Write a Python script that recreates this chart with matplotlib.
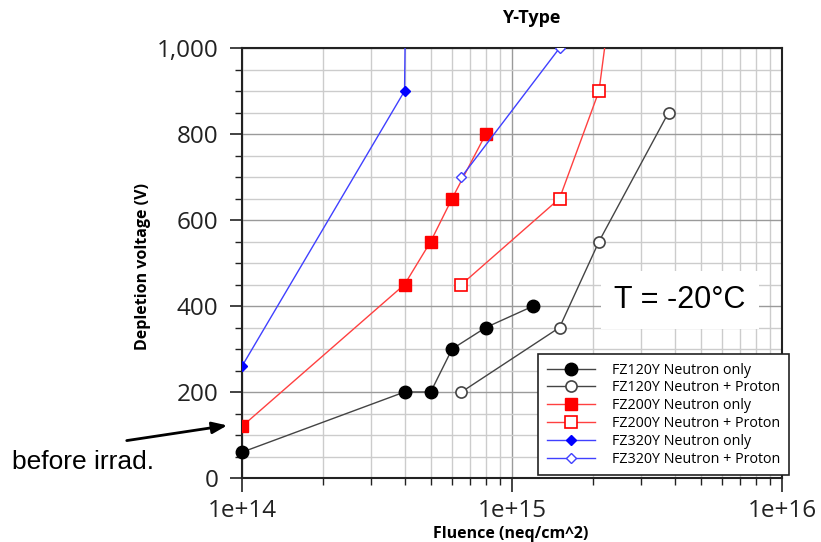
import numpy as np
import matplotlib.pyplot as plt
from matplotlib.ticker import MultipleLocator, LogLocator, FuncFormatter, NullFormatter

# fluence [neq/cm^2] and depletion voltage [V] for each sensor / irradiation type
fz120_n_x = [1e14, 4e14, 5e14, 6e14, 8e14, 1.2e15]
fz120_n_y = [60, 200, 200, 300, 350, 400]
fz120_np_x = [6.5e14, 1.5e15, 2.1e15, 3.8e15]
fz120_np_y = [200, 350, 550, 850]

fz200_n_x = [1e14, 4e14, 5e14, 6e14, 8e14]
fz200_n_y = [120, 450, 550, 650, 800]
fz200_np_x = [6.5e14, 1.5e15, 2.1e15, 2.8e15]
fz200_np_y = [450, 650, 900, 1500]

fz320_n_x = [1e14, 4e14, 4.1e14]
fz320_n_y = [260, 900, 1500]
fz320_np_x = [6.5e14, 1.5e15]
fz320_np_y = [700, 1000]

W, H = 821, 542
fig = plt.figure(figsize=(W / 100, H / 100), dpi=100)
ax = fig.add_axes([242 / W, (H - 478) / H, 540 / W, 430 / H])

ax.set_xscale('log')
ax.set_xlim(1e14, 1e16)
ax.set_ylim(0, 1000)

# grid: light lines everywhere, darker on the major ticks
ax.yaxis.set_major_locator(MultipleLocator(200))
ax.yaxis.set_minor_locator(MultipleLocator(50))
ax.xaxis.set_major_locator(LogLocator(base=10))
ax.xaxis.set_minor_locator(LogLocator(base=10, subs=np.arange(2, 10)))
ax.xaxis.set_minor_formatter(NullFormatter())
ax.grid(which='minor', color='#cccccc', linewidth=1.0)
ax.grid(which='major', color='#9a9a9a', linewidth=1.0)
ax.set_axisbelow(True)

ax.yaxis.set_major_formatter(FuncFormatter(lambda v, p: f"{int(v):,}"))
ax.xaxis.set_major_formatter(FuncFormatter(lambda v, p: f"1e+{int(round(np.log10(v)))}"))
ax.tick_params(which='both', direction='out', colors='#222222', labelcolor='#222222', labelsize=17.5)
ax.tick_params(axis='x', which='major', length=10, width=1.2, pad=5)
ax.tick_params(axis='y', which='major', length=9, width=1.2, pad=8)
ax.tick_params(which='minor', length=5, width=1.0)
for lab in ax.get_xticklabels() + ax.get_yticklabels():
    lab.set_family('Open Sans')
for s in ax.spines.values():
    s.set_linewidth(1.5)
    s.set_color('#222222')

lw = 1.0
ax.plot(fz120_n_x, fz120_n_y, '-', color='#444444', lw=lw, marker='o', ms=9,
        mfc='black', mec='black', label='FZ120Y Neutron only', clip_on=False, zorder=5)
ax.plot(fz120_np_x, fz120_np_y, '-', color='#444444', lw=lw, marker='o', ms=8,
        mfc='white', mec='#444444', mew=1.2, label='FZ120Y Neutron + Proton', clip_on=False, zorder=5)
ax.plot(fz200_n_x, fz200_n_y, '-', color='#ff4040', lw=lw, marker='s', ms=8.5,
        mfc='red', mec='red', label='FZ200Y Neutron only', clip_on=True, zorder=5)
ax.plot(fz200_np_x, fz200_np_y, '-', color='#ff4040', lw=lw, marker='s', ms=8,
        mfc='white', mec='red', mew=1.2, label='FZ200Y Neutron + Proton', clip_on=True, zorder=5)
ax.plot(fz320_n_x, fz320_n_y, '-', color='#4040ff', lw=lw, marker='D', ms=5,
        mfc='blue', mec='blue', label='FZ320Y Neutron only', clip_on=True, zorder=5)
ax.plot(fz320_np_x, fz320_np_y, '-', color='#4040ff', lw=lw, marker='D', ms=5.5,
        mfc='white', mec='#4040ff', mew=1.0, label='FZ320Y Neutron + Proton', clip_on=True, zorder=5)

fig.text(531 / W, 1 - 18 / H, 'Y-Type', fontsize=13, fontweight='bold', family='Open Sans',
         ha='center', va='center')
fig.text(511 / W, 1 - 534 / H, 'Fluence (neq/cm^2)', fontsize=11.5, fontweight='bold',
         family='Open Sans', ha='center', va='center')
fig.text(143 / W, 1 - 266 / H, 'Depletion voltage (V)', fontsize=11.5, fontweight='bold',
         family='Open Sans', ha='center', va='center', rotation=90)

leg = fig.legend(loc='upper left', bbox_to_anchor=(538 / W, 1 - 354 / H), borderaxespad=0,
                 prop={'family': 'Open Sans', 'size': 10.3}, frameon=True, fancybox=False,
                 edgecolor='#222222', framealpha=1, handlelength=3.4, labelspacing=0.2,
                 borderpad=0.6, handletextpad=1.2)
leg.get_frame().set_linewidth(1.2)

# temperature box covering the grid
fig.text(680 / W, 1 - 300 / H, 'T = -20°C', fontsize=22, family='Liberation Sans',
         ha='center', va='center',
         bbox=dict(boxstyle='square,pad=0.45', facecolor='white', edgecolor='none'))

ax.annotate('', xy=(230, H - 425), xycoords='figure pixels',
            xytext=(124, H - 441), textcoords='figure pixels',
            arrowprops=dict(arrowstyle='-|>,head_length=0.9,head_width=0.35', color='black', lw=2))
fig.text(12 / W, 1 - 462 / H, 'before irrad.', fontsize=19, family='Liberation Sans',
         ha='left', va='center')

fig.savefig('out.png', dpi=100)
